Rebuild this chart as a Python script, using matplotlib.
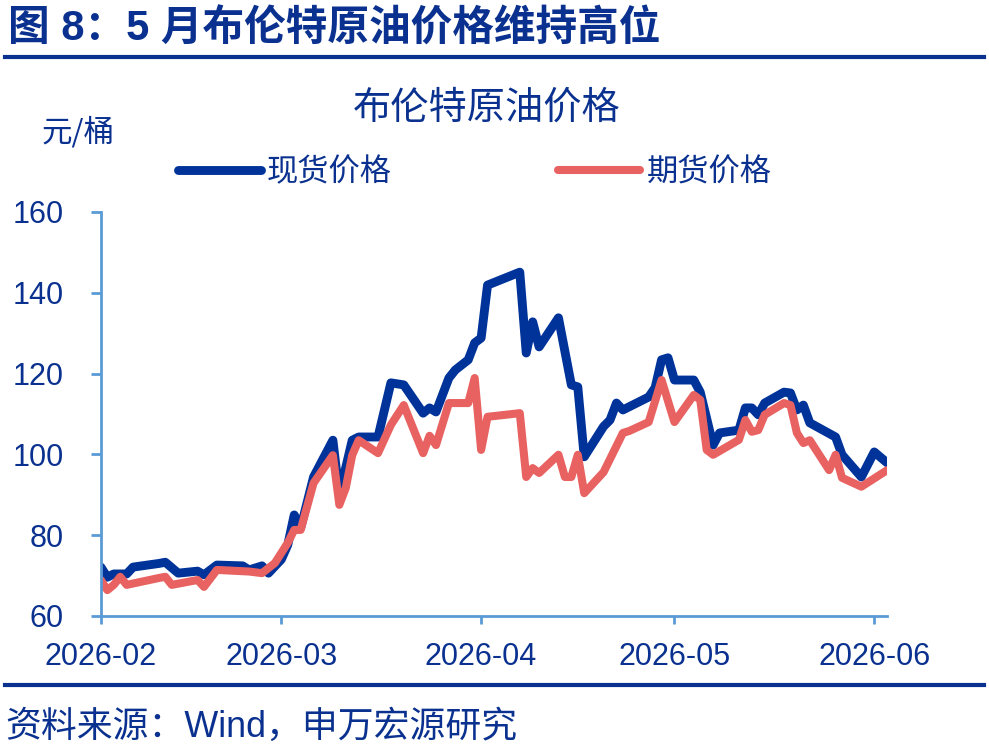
import matplotlib.pyplot as plt
import matplotlib.dates as mdates
from matplotlib.lines import Line2D
import pandas as pd

plt.rcParams['font.family'] = ['Noto Sans CJK SC', 'DejaVu Sans']

# Data
spot_dates = ['2026-02-01', '2026-02-02', '2026-02-03', '2026-02-05', '2026-02-06', '2026-02-10',
              '2026-02-11', '2026-02-13', '2026-02-16', '2026-02-17', '2026-02-19', '2026-02-23',
              '2026-02-24', '2026-02-26', '2026-02-27', '2026-03-01', '2026-03-02', '2026-03-03',
              '2026-03-04', '2026-03-06', '2026-03-09', '2026-03-10', '2026-03-12', '2026-03-13',
              '2026-03-16', '2026-03-18', '2026-03-20', '2026-03-23', '2026-03-24', '2026-03-25',
              '2026-03-27', '2026-03-28', '2026-03-30', '2026-03-31', '2026-04-01', '2026-04-02',
              '2026-04-07', '2026-04-08', '2026-04-09', '2026-04-10', '2026-04-13', '2026-04-15',
              '2026-04-16', '2026-04-17', '2026-04-20', '2026-04-21', '2026-04-22', '2026-04-23',
              '2026-04-27', '2026-04-28', '2026-04-29', '2026-04-30', '2026-05-01', '2026-05-04',
              '2026-05-05', '2026-05-07', '2026-05-08', '2026-05-11', '2026-05-12', '2026-05-13',
              '2026-05-14', '2026-05-15', '2026-05-18', '2026-05-19', '2026-05-20', '2026-05-21',
              '2026-05-22', '2026-05-26', '2026-05-27', '2026-05-30', '2026-06-01', '2026-06-03']
spot_prices = [72.1, 69.6, 70.4, 70.4, 72.1, 73.0,
               73.3, 70.6, 71.1, 70.2, 72.6, 72.4,
               71.4, 72.4, 70.6, 74.0, 77.6, 85.0,
               81.8, 94.4, 103.5, 90.0, 103.5, 104.3,
               104.3, 117.7, 117.2, 110.2, 111.5, 110.5,
               118.9, 120.9, 123.4, 127.6, 128.8, 141.9,
               145.1, 125.1, 132.8, 126.6, 133.8, 117.2,
               116.7, 99.4, 106.9, 108.5, 112.7, 111.0,
               114.2, 116.5, 123.4, 123.9, 118.4, 118.4,
               115.4, 102.3, 105.3, 106.0, 111.5, 111.5,
               109.8, 112.7, 115.4, 115.2, 111.0, 112.2,
               107.8, 104.3, 99.9, 94.4, 100.6, 97.9]

futures_dates = ['2026-02-01', '2026-02-02', '2026-02-03', '2026-02-04', '2026-02-05', '2026-02-10',
                 '2026-02-11', '2026-02-12', '2026-02-16', '2026-02-17', '2026-02-19', '2026-02-24',
                 '2026-02-26', '2026-02-28', '2026-03-02', '2026-03-03', '2026-03-04', '2026-03-06',
                 '2026-03-09', '2026-03-10', '2026-03-11', '2026-03-12', '2026-03-13', '2026-03-16',
                 '2026-03-18', '2026-03-20', '2026-03-23', '2026-03-24', '2026-03-25', '2026-03-27',
                 '2026-03-30', '2026-03-31', '2026-04-01', '2026-04-02', '2026-04-07', '2026-04-08',
                 '2026-04-09', '2026-04-10', '2026-04-13', '2026-04-14', '2026-04-15', '2026-04-16',
                 '2026-04-17', '2026-04-20', '2026-04-23', '2026-04-24', '2026-04-27', '2026-04-29',
                 '2026-05-01', '2026-05-04', '2026-05-05', '2026-05-06', '2026-05-07', '2026-05-11',
                 '2026-05-12', '2026-05-13', '2026-05-14', '2026-05-15', '2026-05-18', '2026-05-19',
                 '2026-05-20', '2026-05-21', '2026-05-22', '2026-05-25', '2026-05-26', '2026-05-27',
                 '2026-05-30', '2026-06-03']
futures_prices = [68.9, 66.4, 67.7, 69.7, 67.7, 69.4,
                  69.7, 67.7, 68.9, 67.2, 71.4, 71.0,
                  70.6, 73.1, 78.1, 81.3, 81.3, 92.9,
                  99.8, 87.5, 91.7, 99.8, 103.5, 100.3,
                  107.3, 112.2, 100.3, 104.6, 102.3, 112.7,
                  112.7, 118.9, 101.1, 109.3, 110.2, 94.4,
                  96.6, 95.4, 99.9, 94.4, 94.4, 99.9,
                  90.4, 95.6, 105.3, 105.8, 108.0, 118.4,
                  108.0, 114.7, 113.5, 101.1, 99.9, 103.6,
                  108.5, 105.6, 106.0, 109.8, 112.7, 112.2,
                  105.3, 102.8, 103.5, 96.1, 99.9, 94.2,
                  92.0, 96.1]

series_names = ['现货价格', '期货价格']
y_ticks = [60, 80, 100, 120, 140, 160]

navy = '#0A318F'
blue = '#003399'
red = '#E86261'
axis_color = '#5B9BD5'
num_font = ['Liberation Sans', 'DejaVu Sans']
mixed_font = ['Liberation Sans', 'Noto Sans CJK SC']

fig = plt.figure(figsize=(9.89, 7.49), dpi=100)
fig.patch.set_facecolor('white')
ax = fig.add_axes([0.102, 0.1776, 0.795, 0.5394])

spot_x = pd.to_datetime(spot_dates)
fut_x = pd.to_datetime(futures_dates)
ax.plot(spot_x, spot_prices, color=blue, linewidth=6.4, solid_capstyle='round',
        solid_joinstyle='round', label=series_names[0])
ax.plot(fut_x, futures_prices, color=red, linewidth=5.8, solid_capstyle='round',
        solid_joinstyle='round', label=series_names[1])

# Axes
ax.set_xlim(pd.Timestamp('2026-02-01'), pd.Timestamp('2026-06-03'))
ax.set_ylim(60, 160)
ax.set_yticks(y_ticks)
ax.xaxis.set_major_locator(mdates.MonthLocator())
ax.xaxis.set_major_formatter(mdates.DateFormatter('%Y-%m'))

for side in ['top', 'right']:
    ax.spines[side].set_visible(False)
for side in ['left', 'bottom']:
    ax.spines[side].set_color(axis_color)
    ax.spines[side].set_linewidth(2)
ax.tick_params(axis='y', direction='out', length=7, width=2, color=axis_color,
               labelcolor=navy, pad=20)
ax.tick_params(axis='x', direction='out', length=6, width=2, color=axis_color,
               labelcolor=navy, pad=13)
for lab in ax.get_xticklabels() + ax.get_yticklabels():
    lab.set_fontfamily(num_font)
    lab.set_fontsize(22)
    lab.set_clip_on(False)

# Legend
fig.legend(loc='center', bbox_to_anchor=(0.480, 0.770), ncol=2, frameon=False,
           fontsize=22.5, labelcolor=navy, handlelength=2.65, handletextpad=0.2,
           columnspacing=5.3, borderpad=0)

# Titles and labels
fig.text(0.492, 0.856, '布伦特原油价格', ha='center', va='center', fontsize=27.5, color=navy)
fig.text(0.042, 0.823, '元/桶', ha='left', va='center', fontsize=22, color=navy)
fig.text(0.008, 0.961, '图 8：5 月布伦特原油价格维持高位', ha='left', va='center',
         fontsize=30, fontweight='heavy', color=navy, family=mixed_font)
fig.text(0.005, 0.029, '资料来源：Wind，申万宏源研究', ha='left', va='center',
         fontsize=25.8, color=navy, family=mixed_font)

# Header and footer rules
fig.add_artist(Line2D([0.005, 0.995], [0.924, 0.924], color=navy, linewidth=3,
                      transform=fig.transFigure))
fig.add_artist(Line2D([0.005, 0.995], [0.0855, 0.0855], color=navy, linewidth=3,
                      transform=fig.transFigure))

plt.savefig('out.png', dpi=100)
